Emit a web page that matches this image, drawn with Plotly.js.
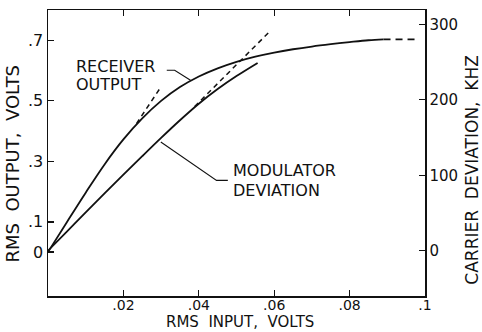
<!DOCTYPE html>
<html>
<head>
<meta charset="utf-8">
<script src="https://cdn.plot.ly/plotly-3.0.1.min.js"></script>
<style>html,body{margin:0;padding:0;background:#fff;}#chart{width:482px;height:332px;}</style>
</head>
<body>
<div id="chart"></div>
<script>
// RMS input (volts) and receiver output (volts) — left axis
const receiverInput  = [0, 0.005, 0.01, 0.015, 0.02, 0.025, 0.03, 0.035, 0.04, 0.045, 0.05, 0.055, 0.06, 0.065, 0.07, 0.075, 0.08, 0.085, 0.089];
const receiverOutput = [0, 0.099, 0.1965, 0.2898, 0.3723, 0.4418, 0.4996, 0.5454, 0.5804, 0.6074, 0.6289, 0.6459, 0.6594, 0.6703, 0.6793, 0.687, 0.6939, 0.7001, 0.703];
// receiver output extrapolation (dashed)
const receiverExtInput  = [0.089, 0.0981];
const receiverExtOutput = [0.703, 0.703];
// receiver tangent (dashed)
const receiverTanInput  = [0.02347, 0.02965];
const receiverTanOutput = [0.4245, 0.540];

// RMS input (volts) and modulator deviation (kHz) — right axis
const modulatorInput     = [0, 0.005, 0.01, 0.015, 0.02, 0.025, 0.03, 0.035, 0.04, 0.045, 0.05, 0.0556];
const modulatorDeviation = [0, 25.4, 50.8, 75.9, 100.8, 125.3, 149.5, 172.9, 194.8, 214.3, 231.5, 248.9];
// modulator tangent (dashed)
const modulatorTanInput     = [0.0389, 0.0588];
const modulatorTanDeviation = [191.1, 290.5];

// tick labels
const xTickVals = [0.02, 0.04, 0.06, 0.08, 0.1];
const xTickText = [".02", ".04", ".06", ".08", ".1"];
const yTickVals = [0, 0.1, 0.3, 0.5, 0.7];
const yTickText = ["0", ".1", ".3", ".5", ".7"];
const y2TickVals = [0, 100, 200, 300];
const y2TickText = ["0", "100", "200", "300"];

const FONT = "DejaVu Sans, Liberation Sans, sans-serif";
const black = "#111";

const traces = [
  {x: receiverInput, y: receiverOutput, mode: "lines", line: {color: black, width: 1.8, shape: "spline", smoothing: 1}, yaxis: "y", hoverinfo: "skip"},
  {x: receiverExtInput, y: receiverExtOutput, mode: "lines", line: {color: black, width: 1.6, dash: "7px,5px"}, yaxis: "y", hoverinfo: "skip"},
  {x: receiverTanInput, y: receiverTanOutput, mode: "lines", line: {color: black, width: 1.5, dash: "5px,4px"}, yaxis: "y", hoverinfo: "skip"},
  {x: modulatorInput, y: modulatorDeviation, mode: "lines", line: {color: black, width: 1.8, shape: "spline", smoothing: 1}, yaxis: "y2", hoverinfo: "skip"},
  {x: modulatorTanInput, y: modulatorTanDeviation, mode: "lines", line: {color: black, width: 1.5, dash: "5px,4px"}, yaxis: "y2", hoverinfo: "skip"}
];

const annFont = {family: FONT, size: 16, color: black};
const layout = {
  width: 482, height: 332,
  margin: {l: 48, r: 57, t: 10, b: 36},
  paper_bgcolor: "#fff", plot_bgcolor: "#fff",
  showlegend: false,
  font: {family: FONT, color: black, size: 15},
  xaxis: {
    range: [0, 0.1], showgrid: false, zeroline: false,
    showline: true, linecolor: black, linewidth: 1.5, mirror: "ticks",
    ticks: "inside", ticklen: 6, tickwidth: 1.3, tickcolor: black,
    tickvals: xTickVals, ticktext: xTickText, tickfont: {family: FONT, size: 14},
    ticklabelstandoff: -4
  },
  yaxis: {
    range: [-0.145, 0.8], showgrid: false, zeroline: false,
    showline: true, linecolor: black, linewidth: 1.5,
    ticks: "inside", ticklen: 6, tickwidth: 1.3, tickcolor: black,
    tickvals: yTickVals, ticktext: yTickText, tickfont: {family: FONT, size: 16}
  },
  yaxis2: {
    overlaying: "y", side: "right",
    range: [-60, 319], showgrid: false, zeroline: false,
    showline: true, linecolor: black, linewidth: 1.5,
    ticks: "inside", ticklen: 6, tickwidth: 1.3, tickcolor: black,
    tickvals: y2TickVals, ticktext: y2TickText, tickfont: {family: FONT, size: 15}
  },
  annotations: [
    {x: 0.51, y: -0.1259, xref: "paper", yref: "paper", text: "RMS  INPUT,  VOLTS", showarrow: false, xanchor: "center", yanchor: "bottom", font: {family: FONT, size: 15, color: black}, borderpad: 0},
    {x: -0.093, y: 0.463, xref: "paper", yref: "paper", text: "RMS  OUTPUT,  VOLTS", textangle: -90, showarrow: false, xanchor: "center", yanchor: "middle", font: {family: FONT, size: 18, color: black}},
    {x: 1.126, y: 0.44, xref: "paper", yref: "paper", text: "CARRIER  DEVIATION,  KHZ", textangle: -90, showarrow: false, xanchor: "center", yanchor: "middle", font: {family: FONT, size: 17, color: black}},
    {x: 0.00709, y: 0.613, xref: "x", yref: "y", text: "RECEIVER", showarrow: false, xanchor: "left", yanchor: "middle", font: annFont, borderpad: 0},
    {x: 0.00709, y: 0.554, xref: "x", yref: "y", text: "OUTPUT", showarrow: false, xanchor: "left", yanchor: "middle", font: annFont, borderpad: 0},
    {x: 0.04871, y: 0.269, xref: "x", yref: "y", text: "MODULATOR", showarrow: false, xanchor: "left", yanchor: "middle", font: annFont, borderpad: 0},
    {x: 0.04871, y: 0.205, xref: "x", yref: "y", text: "DEVIATION", showarrow: false, xanchor: "left", yanchor: "middle", font: annFont, borderpad: 0}
  ],
  shapes: [
    {type: "path", xref: "x", yref: "y", path: "M 0.0315 0.6007 L 0.0336 0.6007 L 0.0378 0.5676", line: {color: black, width: 1.1}},
    {type: "path", xref: "x", yref: "y", path: "M 0.0477 0.237 L 0.0447 0.237 L 0.02992 0.3636", line: {color: black, width: 1.1}}
  ]
};

Plotly.newPlot("chart", traces, layout, {staticPlot: true, displayModeBar: false});
</script>
</body>
</html>
